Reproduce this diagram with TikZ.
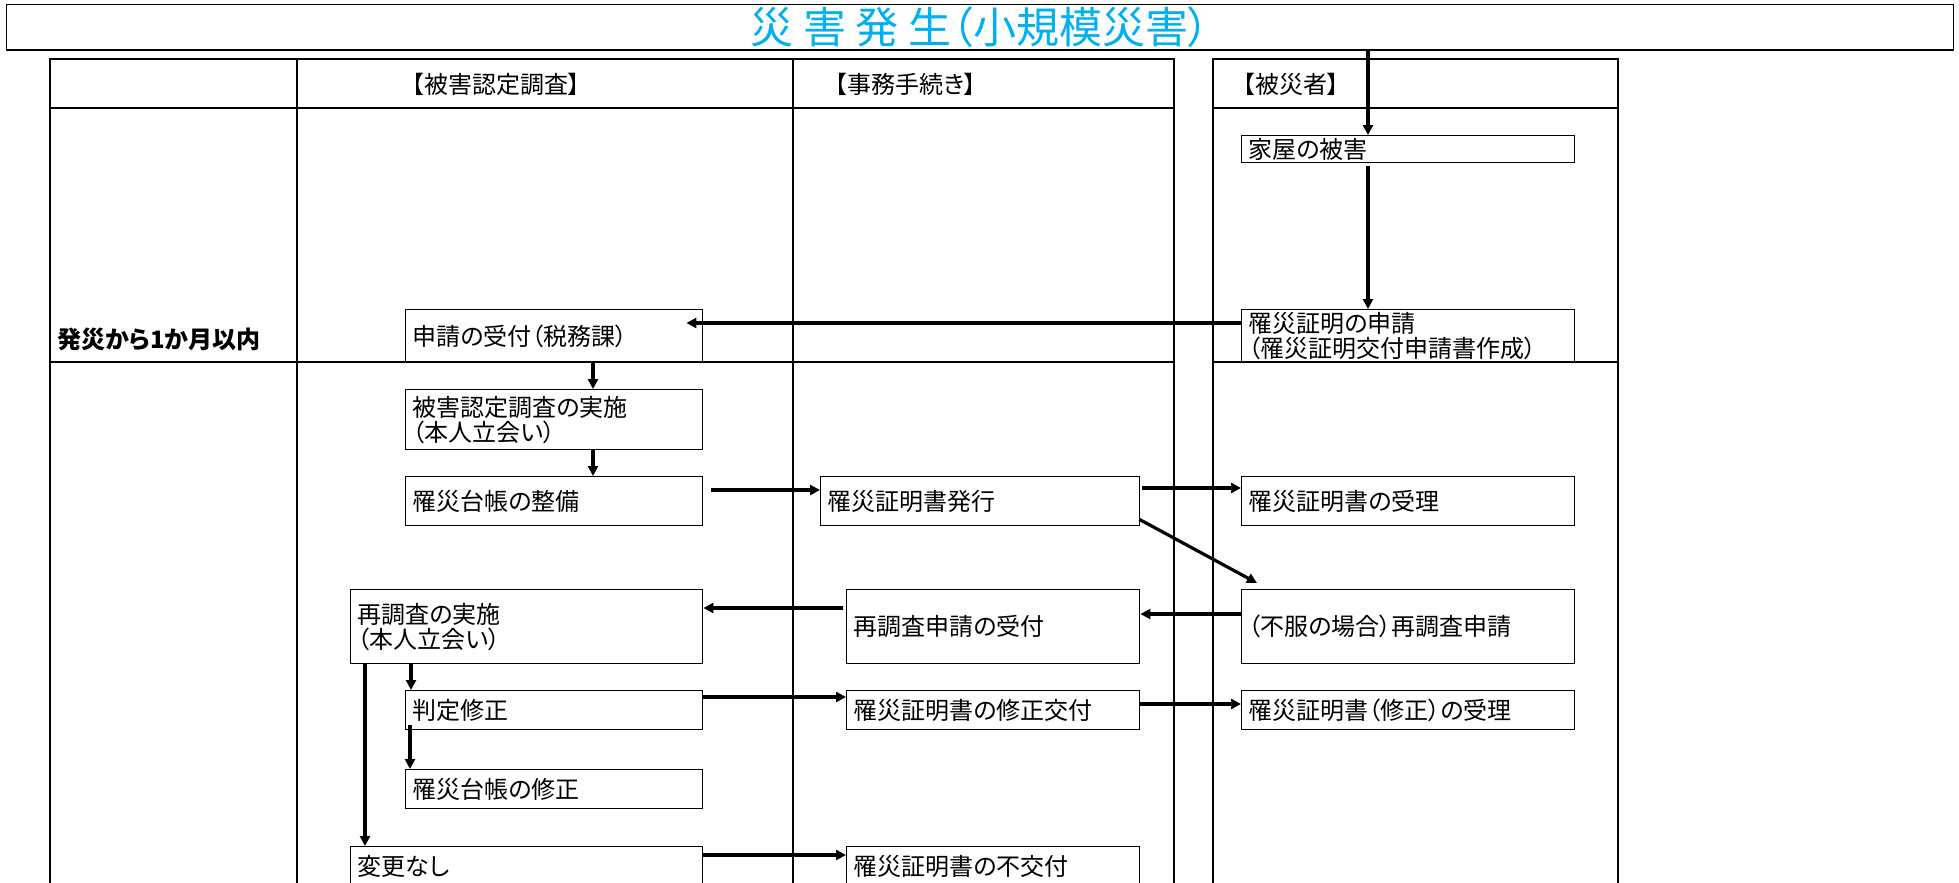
\documentclass[tikz,border=0pt]{standalone}
\usepackage{fontspec}
\setmainfont{Noto Sans CJK JP}[RawFeature=+palt]
\usetikzlibrary{arrows.meta,calc}
\definecolor{titlecol}{RGB}{0,176,240}
\begin{document}
\begin{tikzpicture}[x=1pt,y=-1pt,
  tl/.style={line width=1.3pt},
  box/.style={draw, line width=1.4pt, anchor=north west, align=left, inner xsep=7pt, inner ysep=0pt, font=\fontsize{24}{25}\selectfont},
  arr/.style={line width=3.2pt, -{Triangle[length=10pt,width=10pt]}},
  hd/.style={anchor=west, inner sep=0pt, font=\fontsize{24}{25}\selectfont}]
\useasboundingbox (0,0) rectangle (1959,883);
\clip (0,0) rectangle (1959,883);
% title
\node[draw, line width=1.3pt, anchor=north west, minimum width=1947pt, minimum height=45pt, inner sep=0pt, text=titlecol, font=\fontsize{43}{43}\selectfont] (title) at (6,4) {災 害 発 生（小規模災害）};
\draw[line width=2.4pt] (title.south west) -- (title.south east);
% tables
\draw[tl] (50,59) rectangle (1174,900);
\draw[tl] (50,108) -- (1174,108);
\draw[tl] (50,362) -- (1174,362);
\draw[tl] (297,59) -- (297,900);
\draw[tl] (793,59) -- (793,900);
\draw[tl] (1213,59) rectangle (1618,900);
\draw[tl] (1213,108) -- (1618,108);
\draw[tl] (1213,362) -- (1618,362);
% headers
\node[hd] (h1) at (412,84) {【被害認定調査】};
\node[hd] (h2) at (835,84) {【事務手続き】};
\node[hd] (h3) at (1243,84) {【被災者】};
\node[hd, font=\fontsize{24}{25}\selectfont\bfseries] (period) at (57,339) {発災から1か月以内};
% boxes
\node[box, text width=319pt, minimum height=27pt] (kaoku) at (1241,135) {家屋の被害};
\node[box, text width=319pt, minimum height=53pt] (shinsei) at (1241,309) {罹災証明の申請\\（罹災証明交付申請書作成）};
\node[box, text width=283pt, minimum height=53pt] (uketsuke) at (405,309) {申請の受付（税務課）};
\node[box, text width=283pt, minimum height=60pt] (chosa) at (405,389) {被害認定調査の実施\\（本人立会い）};
\node[box, text width=283pt, minimum height=49pt] (daicho) at (405,476) {罹災台帳の整備};
\node[box, text width=305pt, minimum height=49pt] (hakko) at (820,476) {罹災証明書発行};
\node[box, text width=319pt, minimum height=49pt] (juri) at (1241,476) {罹災証明書の受理};
\node[box, text width=338pt, minimum height=74pt] (saichosa) at (350,589) {再調査の実施\\（本人立会い）};
\node[box, text width=279pt, minimum height=74pt] (saiuke) at (846,589) {再調査申請の受付};
\node[box, text width=319pt, minimum height=74pt] (fufuku) at (1241,589) {（不服の場合）再調査申請};
\node[box, text width=283pt, minimum height=39pt] (hantei) at (405,690) {判定修正};
\node[box, text width=279pt, minimum height=39pt] (shuseikofu) at (846,690) {罹災証明書の修正交付};
\node[box, text width=319pt, minimum height=39pt] (shuseijuri) at (1241,690) {罹災証明書（修正）の受理};
\node[box, text width=283pt, minimum height=39pt] (daichoshusei) at (405,769) {罹災台帳の修正};
\node[box, text width=338pt, minimum height=40pt] (henkou) at (350,846) {変更なし};
\node[box, text width=279pt, minimum height=40pt] (fukofu) at (846,846) {罹災証明書の不交付};
% helper coordinates
\coordinate (xa) at (1368,0);
\coordinate (ya) at (0,323);
\coordinate (xb) at (593,0);
\coordinate (yc) at (0,490);
\coordinate (yd) at (0,488);
\coordinate (ye) at (0,614);
\coordinate (yf) at (0,608);
\coordinate (xg) at (411,0);
\coordinate (xh) at (410,0);
\coordinate (xi) at (365,0);
\coordinate (yj) at (0,697);
\coordinate (yk) at (0,704);
\coordinate (yl) at (0,855);
% arrows
\draw[arr] (title.south -| xa) -- (kaoku.north -| xa);
\draw[arr] ($(kaoku.south -| xa)+(0,3)$) -- (shinsei.north -| xa);
\draw[arr] (shinsei.west |- ya) -- ($(uketsuke.east |- ya)+(-17,0)$);
\draw[arr] (uketsuke.south -| xb) -- (chosa.north -| xb);
\draw[arr] (chosa.south -| xb) -- (daicho.north -| xb);
\draw[arr] ($(daicho.east |- yc)+(8,0)$) -- (hakko.west |- yc);
\draw[arr] ($(hakko.east |- yd)+(2,0)$) -- (juri.west |- yd);
\draw[arr] ($(hakko.south east)+(-1,-7)$) -- ($(fufuku.north west)+(16,-6)$);
\draw[arr] (fufuku.west |- ye) -- (saiuke.east |- ye);
\draw[arr] ($(saiuke.west |- yf)+(-3,0)$) -- (saichosa.east |- yf);
\draw[arr] (saichosa.south -| xg) -- (hantei.north -| xg);
\draw[arr] ($(hantei.south -| xh)+(0,-5)$) -- (daichoshusei.north -| xh);
\draw[arr] (saichosa.south -| xi) -- (henkou.north -| xi);
\draw[arr] (hantei.east |- yj) -- (shuseikofu.west |- yj);
\draw[arr] (shuseikofu.east |- yk) -- (shuseijuri.west |- yk);
\draw[arr] (henkou.east |- yl) -- (fukofu.west |- yl);
\end{tikzpicture}
\end{document}
